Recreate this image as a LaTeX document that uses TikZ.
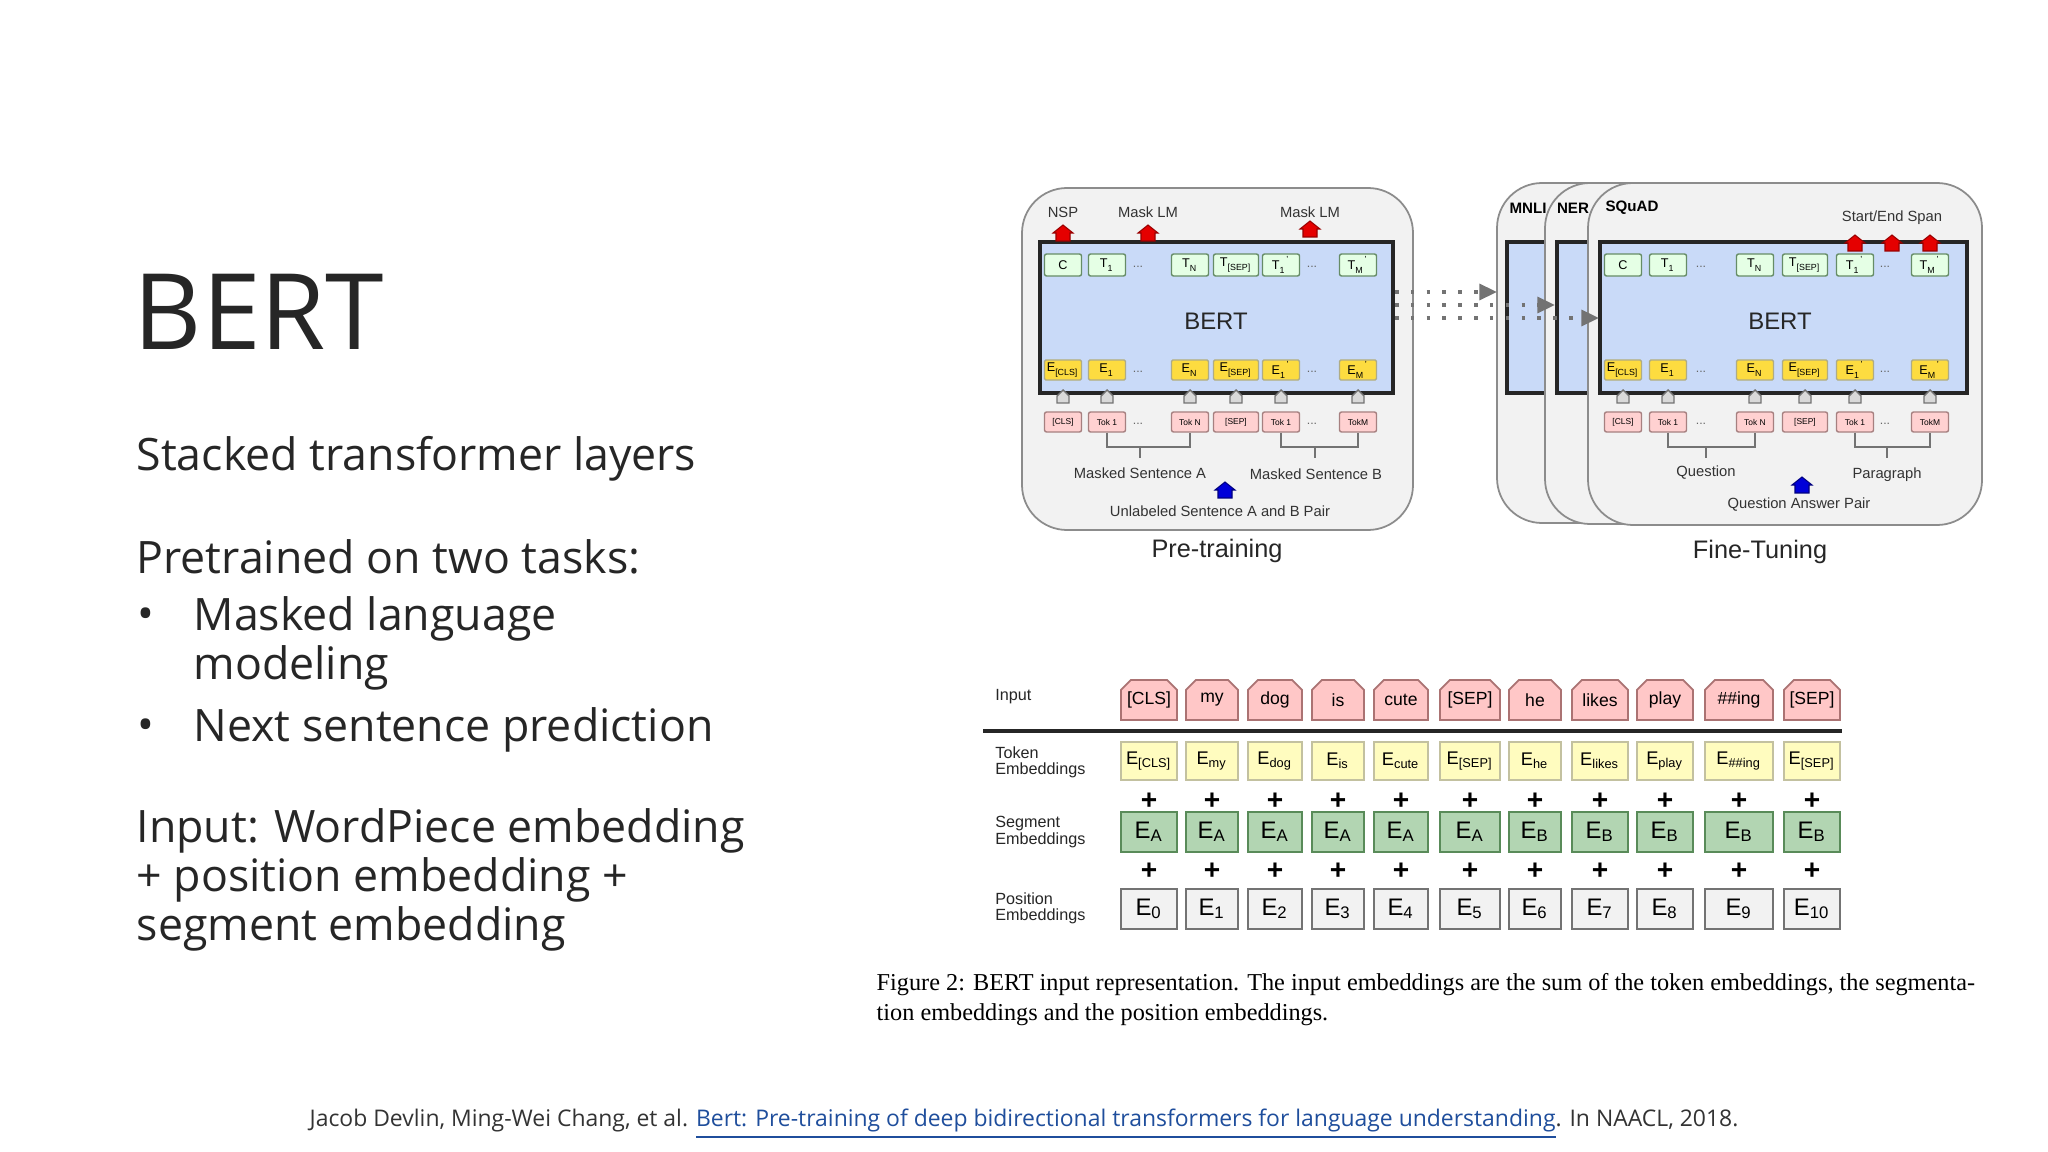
\documentclass[tikz,border=0pt]{standalone}
\usepackage{fontspec}
\setmainfont{Liberation Sans}
\newfontfamily\slidefont{Open Sans}
\newfontfamily\capfont{Liberation Serif}
\usetikzlibrary{shapes.misc,arrows.meta}
\definecolor{linkblue}{HTML}{1F4E9C}
\definecolor{bertblue}{HTML}{C9DAF8}
\tikzset{
 fsz/.style={font=\fontsize{#1}{#1}\selectfont},
 outerbox/.style={draw=black!45,fill=black!5,rounded corners=12.8pt,line width=0.5pt},
 bluebox/.style={draw=black!85,fill=bertblue,line width=0.9pt},
 tkgreen/.style={draw=green!25!black!60,fill=green!10!white,rounded corners=0.6pt,minimum height=6.26pt,inner sep=0,line width=0.4pt,fsz=3.6},
 tkyel/.style={draw=yellow!40!black!60,fill=yellow!70!orange!75!white,rounded corners=0.4pt,minimum height=5.7pt,inner sep=0,line width=0.4pt,fsz=3.6},
 tkpink/.style={draw=red!30!black!50,fill=red!18!white,rounded corners=0.6pt,minimum height=5.7pt,inner sep=0,line width=0.4pt,fsz=2.4},
 gpent/.style={draw=black!55,fill=black!15,line width=0.4pt},
 redarr/.style={fill=red!90!black,draw=red!60!black,line width=0.3pt},
 bluearr/.style={fill=blue!85!black,draw=blue!50!black,line width=0.3pt},
 brk/.style={draw=black!55,line width=0.6pt},
 lbl/.style={fsz=4.2,text=black!80},
 dotarr/.style={draw=black!55,line width=1pt,dash pattern=on 1pt off 3.5pt,-{Triangle[length=5pt,width=4.5pt]}},
 ininput/.style={chamfered rectangle,chamfered rectangle corners={north west,north east},chamfered rectangle xsep=1.4pt,chamfered rectangle ysep=1.4pt,draw=red!40!black!55,fill=red!22!white,minimum height=11.38pt,inner sep=0,line width=0.5pt,fsz=5},
 intok/.style={draw=yellow!40!black!45,fill=yellow!25!white,minimum height=10.81pt,inner sep=0,line width=0.5pt,fsz=5.2},
 inseg/.style={draw=green!30!black!65,fill=green!45!black!30!white,minimum height=11.38pt,inner sep=0,line width=0.5pt,fsz=6.8},
 inpos/.style={draw=black!55,fill=black!5,minimum height=11.38pt,inner sep=0,line width=0.5pt,fsz=6.8},
 rowlbl/.style={anchor=west,align=left,fsz=4.6,text=black!85},
 plusn/.style={font=\bfseries\fontsize{8}{8}\selectfont},
 slide/.style={anchor=west,font=\slidefont\fontsize{12.7}{12.7}\selectfont,text=black!85,inner sep=0},
}
\newcommand\pent[2]{\path[gpent,shift={(#1,#2)}] (-6,7)--(-6,0)--(0,-6)--(6,0)--(6,7)--cycle;}
\newcommand\redup[2]{\path[redarr,shift={(#1,#2)}] (-7,8)--(-7,0)--(-10,0)--(0,-8)--(10,0)--(7,0)--(7,8)--cycle;}
\newcommand\blueup[2]{\path[bluearr,shift={(#1,#2)}] (-7,8)--(-7,0)--(-10,0)--(0,-8)--(10,0)--(7,0)--(7,8)--cycle;}
\begin{document}
\begin{tikzpicture}[x=0.01cm,y=-0.01cm]
\useasboundingbox[fill=white] (0,0) rectangle (2048,1152);
% ---------- left slide text
\node[anchor=west,inner sep=0,font=\slidefont\fontsize{30}{30}\selectfont,text=black!85] (title) at (133,312) {BERT};
\node[slide] (t1) at (136,459) {Stacked transformer layers};
\node[slide] (t2) at (136,557) {Pretrained on two tasks:};
\node[slide] (b1) at (137,619) {•};
\node[slide] (t3) at (193,619) {Masked language};
\node[slide] (t4) at (193,668) {modeling};
\node[slide] (b2) at (137,730) {•};
\node[slide] (t5) at (193,730) {Next sentence prediction};
\node[slide] (t6) at (136,831) {Input: WordPiece embedding};
\node[slide] (t7) at (136,880) {+ position embedding +};
\node[slide] (t8) at (136,929) {segment embedding};
% ---------- footer
\node[font=\slidefont\fontsize{6.52}{6.52}\selectfont,text=black!80,inner sep=0] (foot) at (1024,1124) {Jacob Devlin, Ming-Wei Chang, et al. \textcolor{linkblue}{\underline{Bert: Pre-training of deep bidirectional transformers for language understanding}}. In NAACL, 2018.};
% ---------- pre-training
\path[outerbox] (1022,188) rectangle (1413,530);
\path[bluebox] (1040,242) rectangle (1393,393);
\node[fsz=6.8,text=black!85] (bert1) at (1216,321) {BERT};
\foreach \n/\x/\w/\t/\e/\p in {c/1063/37/C/E\textsubscript{[CLS]}/[CLS], a/1107/37/T\textsubscript{1}/E\textsubscript{1}/Tok 1, n/1190/37/T\textsubscript{N}/E\textsubscript{N}/Tok N, s/1236/45/T\textsubscript{[SEP]}/E\textsubscript{[SEP]}/[SEP], b/1281/37/T\textsubscript{1}\textsuperscript{'}/E\textsubscript{1}\textsuperscript{'}/Tok 1, m/1358/37/T\textsubscript{M}\textsuperscript{'}/E\textsubscript{M}\textsuperscript{'}/TokM}{
 \node[tkgreen,minimum width=\w*0.2845pt] (pT\n) at (\x,265) {\t};
 \node[tkyel,minimum width=\w*0.2845pt] (pE\n) at (\x,370) {\e};
 \node[tkpink,minimum width=\w*0.2845pt] (pP\n) at (\x,422) {\p};
 \pent{\x}{396}
}
\foreach \x/\k in {1138/1,1312/2}{
 \node[fsz=3.5,text=black!60] (pdT\k) at (\x,267) {...};
 \node[fsz=3.5,text=black!60] (pdE\k) at (\x,372) {...};
 \node[fsz=3.5,text=black!60] (pdP\k) at (\x,424) {...};
}
\draw[brk] (pPa.south) |- (1140,447) -| (pPn.south);
\coordinate (pA) at (1140,458);
\draw[brk] (1140,447) -- (pA);
\draw[brk] (pPb.south) |- (1315,447) -| (pPm.south);
\coordinate (pB) at (1315,458);
\draw[brk] (1315,447) -- (pB);
\node[lbl] (msa) at (1140,473) {Masked Sentence A};
\node[lbl] (msb) at (1316,474) {Masked Sentence B};
\blueup{1225}{490}
\node[lbl] (unl) at (1220,511) {Unlabeled Sentence A and B Pair};
\redup{1063}{233}
\redup{1148}{233}
\redup{1310}{229}
\node[lbl] (nsp) at (1063,212) {NSP};
\node[lbl] (mlm1) at (1148,212) {Mask LM};
\node[lbl] (mlm2) at (1310,212) {Mask LM};
\node[fsz=7.2,text=black!85] (pre) at (1217,551) {Pre-training};
% ---------- fine-tuning
\path[outerbox] (1497,183) rectangle (1900,523);
\path[bluebox] (1507,242) rectangle (1600,393);
\path[outerbox] (1545,183) rectangle (1940,524);
\path[bluebox] (1557,242) rectangle (1640,393);
\path[outerbox] (1588,183) rectangle (1982,525);
\path[bluebox] (1600,242) rectangle (1967,393);
\node[font=\bfseries\fontsize{4.3}{4.3}\selectfont] (mnli) at (1528,208) {MNLI};
\node[font=\bfseries\fontsize{4.3}{4.3}\selectfont] (ner) at (1573,208) {NER};
\node[font=\bfseries\fontsize{4.3}{4.3}\selectfont] (squad) at (1632,208) {SQuAD};
\node[lbl] (span) at (1892,218) {Start/End Span};
\node[fsz=6.8,text=black!85] (bert2) at (1780,321) {BERT};
\foreach \n/\x/\w/\t/\e/\p in {c/1623/37/C/E\textsubscript{[CLS]}/[CLS], a/1668/37/T\textsubscript{1}/E\textsubscript{1}/Tok 1, n/1755/37/T\textsubscript{N}/E\textsubscript{N}/Tok N, s/1805/45/T\textsubscript{[SEP]}/E\textsubscript{[SEP]}/[SEP], b/1855/37/T\textsubscript{1}\textsuperscript{'}/E\textsubscript{1}\textsuperscript{'}/Tok 1, m/1930/37/T\textsubscript{M}\textsuperscript{'}/E\textsubscript{M}\textsuperscript{'}/TokM}{
 \node[tkgreen,minimum width=\w*0.2845pt] (fT\n) at (\x,265) {\t};
 \node[tkyel,minimum width=\w*0.2845pt] (fE\n) at (\x,370) {\e};
 \node[tkpink,minimum width=\w*0.2845pt] (fP\n) at (\x,422) {\p};
 \pent{\x}{396}
}
\foreach \x/\k in {1701/1,1885/2}{
 \node[fsz=3.5,text=black!60] (fdT\k) at (\x,267) {...};
 \node[fsz=3.5,text=black!60] (fdE\k) at (\x,372) {...};
 \node[fsz=3.5,text=black!60] (fdP\k) at (\x,424) {...};
}
\redup{1855}{243}
\redup{1892}{243}
\redup{1930}{243}
\draw[brk] (fPa.south) |- (1706,447) -| (fPn.south);
\coordinate (fQ) at (1706,458);
\draw[brk] (1706,447) -- (fQ);
\draw[brk] (fPb.south) |- (1887,447) -| (fPm.south);
\coordinate (fR) at (1887,458);
\draw[brk] (1887,447) -- (fR);
\node[lbl] (que) at (1706,473) {Question};
\node[lbl] (par) at (1887,475) {Paragraph};
\blueup{1802}{485}
\node[lbl] (qap) at (1799,505) {Question Answer Pair};
\node[fsz=7.2,text=black!85] (fine) at (1760,552) {Fine-Tuning};
% dotted arrows
\coordinate (d1s) at (1395,292); \coordinate (d1e) at (1497,292);
\coordinate (d2s) at (1395,305); \coordinate (d2e) at (1555,305);
\coordinate (d3s) at (1395,318); \coordinate (d3e) at (1599,318);
\draw[dotarr] (d1s) -- (d1e);
\draw[dotarr] (d2s) -- (d2e);
\draw[dotarr] (d3s) -- (d3e);
% ---------- input representation table
\node[rowlbl] (lin) at (983,697) {Input};
\coordinate (rl) at (983,731); \coordinate (rr) at (1842,731);
\draw[line width=1.3pt,black!85] (rl) -- (rr);
\node[rowlbl] (ltok) at (983,762) {Token\\Embeddings};
\node[rowlbl] (lseg) at (983,832) {Segment\\Embeddings};
\node[rowlbl] (lpos) at (983,908) {Position\\Embeddings};
\foreach \i/\x/\w/\inp/\tk/\sg in {0/1149/56/[CLS]/[CLS]/A, 1/1212/52/my/my/A, 2/1275/54/dog/dog/A, 3/1338/52/is/is/A, 4/1401/54/cute/cute/A, 5/1470/60/[SEP]/[SEP]/A, 6/1535/52/he/he/B, 7/1600/56/likes/likes/B, 8/1665/56/play/play/B, 9/1739/68/\#\#ing/\#\#ing/B, 10/1812/56/[SEP]/[SEP]/B}{
 \node[ininput,minimum width=\w*0.2845pt] (in\i) at (\x,700) {\inp};
 \node[intok,minimum width=\w*0.2845pt] (tk\i) at (\x,761) {E\textsubscript{\tk}};
 \node[plusn] (p1\i) at (\x,801) {+};
 \node[inseg,minimum width=\w*0.2845pt] (sg\i) at (\x,832) {E\textsubscript{\sg}};
 \node[plusn] (p2\i) at (\x,871) {+};
 \node[inpos,minimum width=\w*0.2845pt] (ps\i) at (\x,909) {E\textsubscript{\i}};
}
% caption
\node[anchor=north west,align=left,inner sep=0,font=\capfont\fontsize{6.9}{8.4}\selectfont] (cap) at (876,973) {Figure 2: BERT input representation. The input embeddings are the sum of the token embeddings, the segmenta-\\tion embeddings and the position embeddings.};
\end{tikzpicture}
\end{document}
